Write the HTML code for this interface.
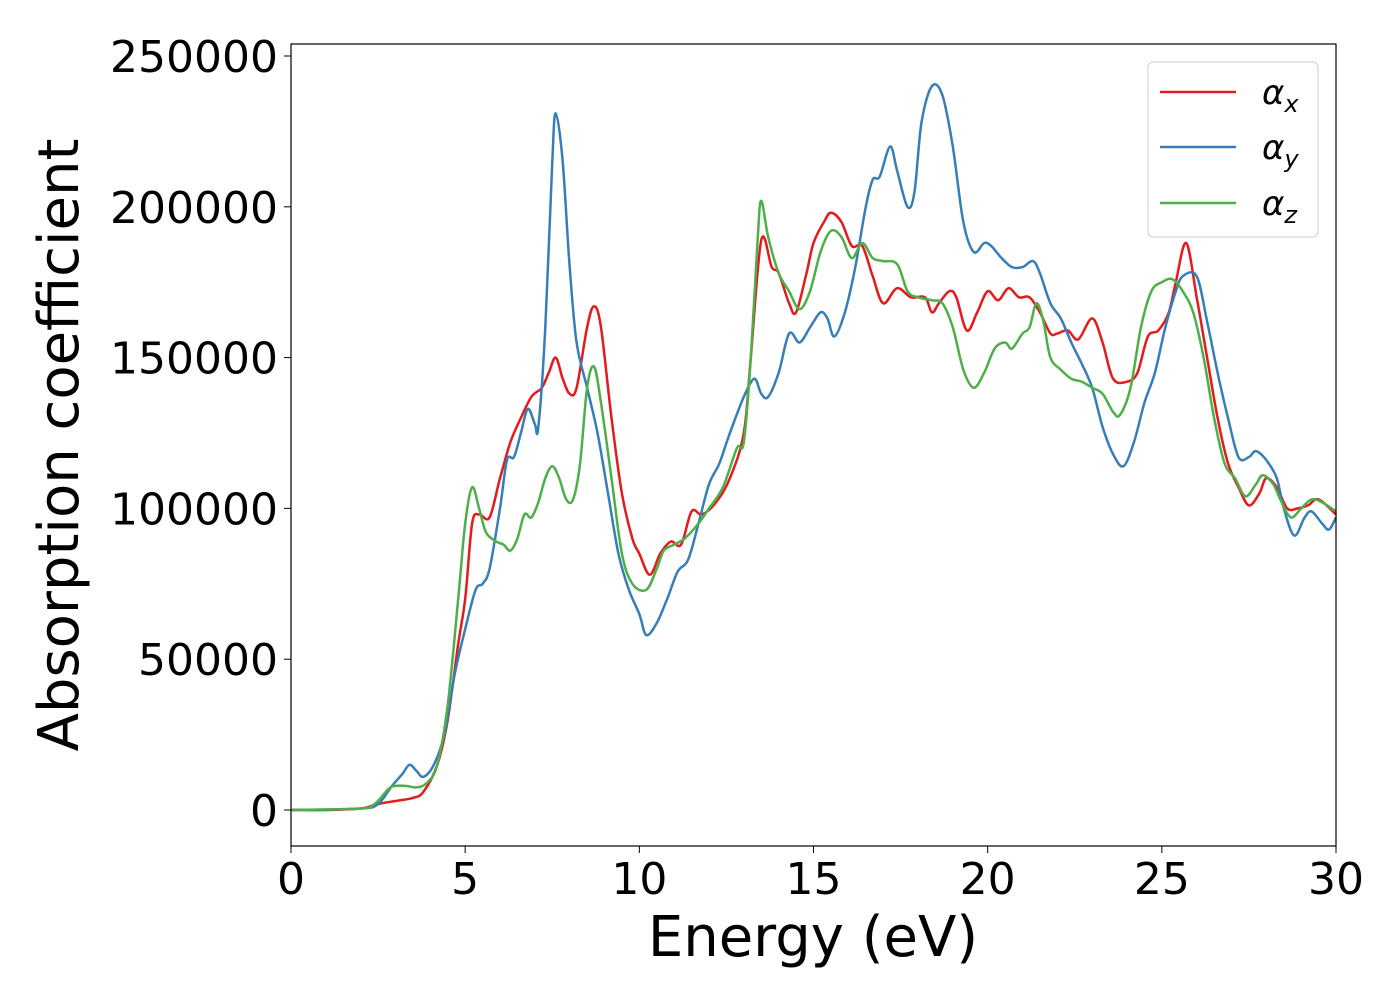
<!DOCTYPE html>
<html><head><meta charset="utf-8"><style>
html,body{margin:0;padding:0;background:#fff;}
svg{display:block;font-family:"DejaVu Sans","Liberation Sans",sans-serif;}
</style></head><body>
<svg id="chart" width="1400" height="1000" viewBox="0 0 1400 1000" xmlns="http://www.w3.org/2000/svg">
<rect width="1400" height="1000" fill="#fff"/>
<g id="lines"></g>
<rect x="291" y="44" width="1045" height="802" fill="none" stroke="#000" stroke-width="1.2"/>
<g id="xticks"></g>
<g id="yticks"></g>
<text x="813" y="956" font-size="56" text-anchor="middle">Energy (eV)</text>
<text transform="translate(78,445) rotate(-90)" font-size="56" text-anchor="middle">Absorption coefficient</text>
<g>
<rect x="1148" y="62" width="170" height="175" rx="5" fill="#fff" fill-opacity="0.8" stroke="#ccc" stroke-width="1"/>
<line x1="1160" y1="92" x2="1236" y2="92" stroke="#e41a1c" stroke-width="2.5"/>
<text x="1262" y="104" font-size="34" font-style="italic">α<tspan font-size="24" dy="8">x</tspan></text>
<line x1="1160" y1="147" x2="1236" y2="147" stroke="#377eb8" stroke-width="2.5"/>
<text x="1262" y="159" font-size="34" font-style="italic">α<tspan font-size="24" dy="8">y</tspan></text>
<line x1="1160" y1="203" x2="1236" y2="203" stroke="#4daf4a" stroke-width="2.5"/>
<text x="1262" y="215" font-size="34" font-style="italic">α<tspan font-size="24" dy="8">z</tspan></text>
</g>
</svg>
<script>
const xTicks=[0,5,10,15,20,25,30];
const yTicks=[0,50000,100000,150000,200000,250000];
const redX=[0,1,2,2.5,3,3.5,3.8,4.2,4.5,4.8,5.0,5.2,5.4,5.7,6.0,6.3,6.6,6.9,7.2,7.4,7.6,7.8,8.0,8.2,8.5,8.7,8.9,9.2,9.5,9.8,10.0,10.3,10.6,10.9,11.2,11.5,11.8,12.2,12.6,13.0,13.2,13.5,13.8,14.0,14.3,14.5,14.8,15.0,15.3,15.5,15.8,16.1,16.4,16.7,17.0,17.4,17.8,18.2,18.4,18.6,18.9,19.1,19.4,19.7,20.0,20.3,20.6,20.9,21.2,21.5,21.8,22.0,22.3,22.6,23.0,23.3,23.6,24.0,24.3,24.6,24.9,25.2,25.4,25.7,26.0,26.3,26.6,26.9,27.2,27.5,27.8,28.0,28.3,28.6,28.9,29.2,29.5,30];
const redY=[0,0,500,2000,3000,4000,6000,15000,30000,55000,70000,95000,98000,97000,110000,122000,130000,137000,140000,145000,150000,143000,138000,140000,160000,167000,160000,130000,105000,90000,85000,78000,85000,89000,88000,99000,98000,102000,110000,125000,150000,189000,180000,178000,168000,165000,178000,188000,195000,198000,195000,187000,187000,177000,168000,173000,170000,170000,165000,168000,172000,170000,159000,165000,172000,169000,173000,170000,170000,165000,158000,158000,159000,156000,163000,155000,143000,142000,145000,157000,159000,165000,175000,188000,170000,150000,130000,115000,107000,101000,105000,110000,107000,100000,100000,101000,103000,98000];
const blueX=[0,2,2.5,2.9,3.2,3.4,3.6,3.8,4.1,4.4,4.7,5.0,5.3,5.5,5.7,6.0,6.2,6.4,6.6,6.8,7.0,7.1,7.3,7.5,7.6,7.8,8.0,8.2,8.5,8.8,9.1,9.4,9.7,10.0,10.2,10.5,10.8,11.1,11.4,11.7,12.0,12.3,12.6,13.0,13.3,13.5,13.7,14.0,14.3,14.6,14.9,15.2,15.4,15.6,15.9,16.2,16.5,16.7,16.9,17.2,17.4,17.7,17.9,18.1,18.4,18.7,19.0,19.3,19.6,19.9,20.1,20.4,20.7,21.0,21.3,21.5,21.8,22.1,22.4,22.7,23.0,23.3,23.6,23.9,24.2,24.5,24.8,25.1,25.4,25.6,26.0,26.3,26.6,26.9,27.2,27.5,27.7,28.0,28.3,28.5,28.8,29.1,29.3,29.6,29.8,30];
const blueY=[0,500,2000,8000,12000,15000,13000,11000,15000,25000,45000,60000,73000,75000,80000,100000,116000,117000,125000,133000,128000,127000,160000,215000,231000,215000,180000,155000,140000,125000,105000,85000,73000,65000,58000,62000,70000,79000,83000,95000,108000,115000,125000,137000,143000,138000,137000,145000,158000,155000,160000,165000,163000,157000,165000,180000,200000,209000,210000,220000,212000,200000,205000,228000,240000,237000,220000,195000,185000,188000,187000,183000,180000,180000,182000,178000,168000,163000,155000,148000,140000,127000,118000,114000,122000,135000,145000,160000,172000,177000,177000,162000,145000,130000,117000,117000,119000,116000,110000,100000,91000,97000,99000,95000,93000,97000];
const greenX=[0,2,2.4,2.8,3.0,3.3,3.6,3.9,4.2,4.5,4.8,5.0,5.2,5.4,5.6,5.9,6.1,6.3,6.5,6.7,6.9,7.1,7.3,7.5,7.7,7.9,8.1,8.3,8.5,8.7,8.9,9.2,9.5,9.8,10.2,10.5,10.7,11.0,11.3,11.7,12.0,12.4,12.8,13.0,13.2,13.4,13.5,13.7,14.0,14.3,14.6,14.9,15.2,15.5,15.8,16.1,16.4,16.7,17.0,17.4,17.7,18.0,18.4,18.7,19.0,19.3,19.6,19.9,20.2,20.5,20.7,21.0,21.2,21.4,21.6,21.8,22.1,22.4,22.7,23.0,23.3,23.6,23.8,24.1,24.4,24.7,25.0,25.3,25.6,25.9,26.2,26.5,26.8,27.1,27.4,27.7,27.9,28.2,28.4,28.7,29.0,29.3,29.6,30];
const greenY=[0,500,2000,7000,8000,8000,7500,9000,15000,35000,70000,95000,107000,100000,92000,89000,88000,86000,90000,98000,97000,102000,110000,114000,110000,103000,103000,115000,140000,147000,135000,110000,85000,75000,73000,80000,86000,88000,90000,95000,100000,107000,120000,122000,150000,190000,202000,190000,178000,172000,166000,172000,185000,192000,190000,183000,188000,183000,182000,181000,172000,170000,169000,168000,160000,146000,140000,145000,153000,155000,153000,158000,160000,168000,162000,150000,146000,143000,142000,140000,138000,132000,131000,140000,160000,172000,175000,176000,172000,165000,150000,130000,115000,110000,104000,108000,111000,108000,103000,97000,100000,103000,102000,99000];

const L=291,R=1336,T=44,B=846;
const xs=v=>L+(v-0)/(30-0)*(R-L);
const ys=v=>810-v*(754/250000);
const NS='http://www.w3.org/2000/svg';
function path(X,Y){
  const p=X.map((x,i)=>[xs(x),ys(Y[i])]);
  let d='M'+p[0][0].toFixed(1)+','+p[0][1].toFixed(1);
  for(let i=0;i<p.length-1;i++){
    const p0=p[Math.max(0,i-1)],p1=p[i],p2=p[i+1],p3=p[Math.min(p.length-1,i+2)];
    const c1=[p1[0]+(p2[0]-p0[0])/6,p1[1]+(p2[1]-p0[1])/6];
    const c2=[p2[0]-(p3[0]-p1[0])/6,p2[1]-(p3[1]-p1[1])/6];
    d+='C'+c1.map(v=>v.toFixed(1)).join(',')+' '+c2.map(v=>v.toFixed(1)).join(',')+' '+p2.map(v=>v.toFixed(1)).join(',');
  }
  return d;
}
const lines=document.getElementById('lines');
const series=[['series-alpha-x',redX,redY,'#e41a1c'],['series-alpha-z',greenX,greenY,'#4daf4a'],['series-alpha-y',blueX,blueY,'#377eb8']];
// draw order: red, blue, green like matplotlib
[[series[0]],[series[2]],[series[1]]].forEach(([s])=>{
  const el=document.createElementNS(NS,'path');
  
  
  el.setAttribute('d',path(s[1],s[2]));
  el.setAttribute('fill','none');el.setAttribute('stroke',s[3]);el.setAttribute('stroke-width','2.5');
  lines.appendChild(el);
});
const xg=document.getElementById('xticks');
xTicks.forEach(t=>{
  const ln=document.createElementNS(NS,'line');
  
  
  ln.setAttribute('x1',xs(t));ln.setAttribute('x2',xs(t));ln.setAttribute('y1',B);ln.setAttribute('y2',B+7);ln.setAttribute('stroke','#000');
  xg.appendChild(ln);
  const tx=document.createElementNS(NS,'text');
  
  
  tx.setAttribute('x',xs(t));tx.setAttribute('y',894);tx.setAttribute('font-size','44');tx.setAttribute('text-anchor','middle');
  tx.textContent=t;xg.appendChild(tx);
});
const yg=document.getElementById('yticks');
yTicks.forEach(t=>{
  const ln=document.createElementNS(NS,'line');
  
  
  ln.setAttribute('x1',L-7);ln.setAttribute('x2',L);ln.setAttribute('y1',ys(t));ln.setAttribute('y2',ys(t));ln.setAttribute('stroke','#000');
  yg.appendChild(ln);
  const tx=document.createElementNS(NS,'text');
  
  
  tx.setAttribute('x',278);tx.setAttribute('y',ys(t)+16);tx.setAttribute('font-size','44');tx.setAttribute('text-anchor','end');
  tx.textContent=t;yg.appendChild(tx);
});
</script>
</body></html>
